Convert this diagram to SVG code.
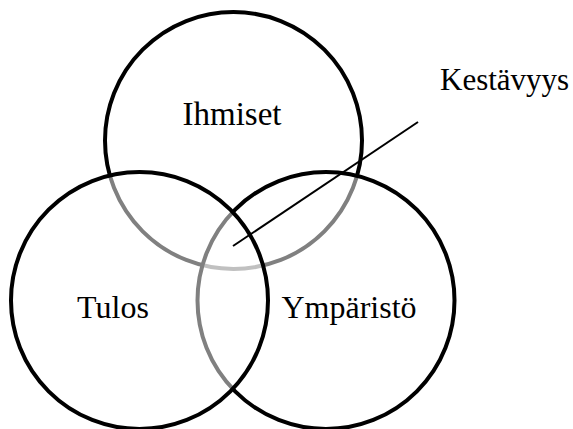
<svg xmlns="http://www.w3.org/2000/svg" width="573" height="429" viewBox="0 0 573 429">
<style>
.c{fill:#fff;fill-opacity:0.5;stroke:#000;stroke-width:4}
.t{font-family:"Liberation Serif","Times New Roman",serif;font-size:32px;fill:#000}
.l{stroke:#000;stroke-width:2;fill:none}
</style>
<rect width="573" height="429" fill="#fff"/>
<g id="ihmiset">
<circle class="c" cx="233.5" cy="140.5" r="128.5"/>
<text class="t" x="232" y="125" text-anchor="middle" style="font-size:33px">Ihmiset</text>
</g>
<g id="ymparisto">
<circle class="c" cx="326" cy="300.5" r="128.5"/>
<text class="t" x="349" y="318" text-anchor="middle">Ympäristö</text>
</g>
<g id="tulos">
<circle class="c" cx="139.5" cy="300.5" r="128.5"/>
<text class="t" x="113" y="318" text-anchor="middle">Tulos</text>
</g>
<g id="connectors">
<line class="l" x1="233" y1="246" x2="418" y2="122"/>
</g>
<g id="kestavyys">
<text class="t" x="440" y="90" style="font-size:31px">Kestävyys</text>
</g>
</svg>
